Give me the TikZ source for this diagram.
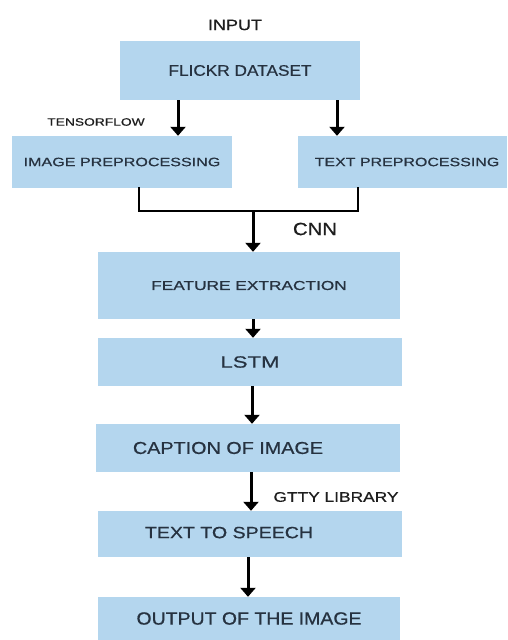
\documentclass[tikz,border=0pt]{standalone}
\usepackage{fontspec}
\setmainfont{Liberation Sans}[FakeBold=0.6]
\usetikzlibrary{arrows.meta,calc}
\definecolor{boxblue}{RGB}{180,214,238}
\definecolor{boxtext}{RGB}{38,50,64}
\definecolor{labeltext}{RGB}{30,30,30}
% sized, horizontally widened text: size, x-stretch, text
\newcommand{\wtxt}[3]{{\fontsize{#1pt}{#1pt}\selectfont\scalebox{#2}[1]{#3}}}
\begin{document}
\begin{tikzpicture}[x=1pt,y=-1pt,
  stage/.style={fill=boxblue,draw=none,inner sep=0pt,text=boxtext,anchor=center},
  tag/.style={inner sep=0pt,text=labeltext,anchor=center},
  flow/.style={line width=3pt,draw=black,-{Triangle[width=15pt,length=9pt]}},
  rail/.style={line width=2.6pt,draw=black,line cap=rect}]
\useasboundingbox[fill=white] (0,0) rectangle (507,640);

% stages
\node[stage,minimum width=240pt,minimum height=59pt] (flickr) at (240,70.5)
  {\raisebox{-2.5pt}{\wtxt{15.4}{1.12}{FLICKR DATASET}}};
\node[stage,minimum width=220pt,minimum height=52pt] (imgpre) at (122,162)
  {\wtxt{12.1}{1.33}{IMAGE PREPROCESSING}};
\node[stage,minimum width=209pt,minimum height=52pt] (txtpre) at (402.5,162)
  {\hspace*{9pt}\wtxt{12.1}{1.32}{TEXT PREPROCESSING}};
\node[stage,minimum width=302pt,minimum height=67pt] (feat) at (249,285.5)
  {\wtxt{13}{1.33}{FEATURE EXTRACTION}};
\node[stage,minimum width=304pt,minimum height=48pt] (lstm) at (250,362)
  {\wtxt{16.3}{1.36}{LSTM}};
\node[stage,minimum width=304pt,minimum height=48pt] (caption) at (248,448)
  {\wtxt{17.2}{1.15}{CAPTION OF IMAGE}\hspace*{40pt}};
\node[stage,minimum width=304pt,minimum height=46pt] (tts) at (250,534)
  {\raisebox{3pt}{\wtxt{16.3}{1.2}{TEXT TO SPEECH}}\hspace*{42pt}};
\node[stage,minimum width=302pt,minimum height=43pt] (output) at (249,618.5)
  {\raisebox{-1.5pt}{\wtxt{17.7}{1.1}{OUTPUT OF THE IMAGE}}};

% labels
\node[tag] (input) at (235,25) {\wtxt{15}{1.2}{INPUT}};
\node[tag] (tf) at (96,122) {\wtxt{10.7}{1.29}{TENSORFLOW}};
\node[tag] (cnn) at (315,229) {\wtxt{17.7}{1.15}{CNN}};
\node[tag] (gtty) at (336,497) {\wtxt{14}{1.24}{GTTY LIBRARY}};

% connectors
\draw[flow] ([xshift=-62pt]flickr.south) -- ([xshift=-62pt]flickr.south |- imgpre.north);
\draw[flow] ([xshift=97pt]flickr.south) -- ([xshift=97pt]flickr.south |- txtpre.north);
\coordinate (join) at (253,211);
\draw[rail] ([xshift=17pt]imgpre.south) |- (join) -| ([xshift=-44.5pt]txtpre.south);
\draw[flow] (join) -- (join |- feat.north);
\draw[flow] ([xshift=4pt]feat.south) -- ([xshift=4pt]feat.south |- lstm.north);
\draw[flow] ([xshift=2pt]lstm.south) -- ([xshift=2pt]lstm.south |- caption.north);
\draw[flow] ([xshift=3pt]caption.south) -- ([xshift=3pt]caption.south |- tts.north);
\draw[flow] ([xshift=-2pt]tts.south) -- ([xshift=-2pt]tts.south |- output.north);
\end{tikzpicture}
\end{document}
